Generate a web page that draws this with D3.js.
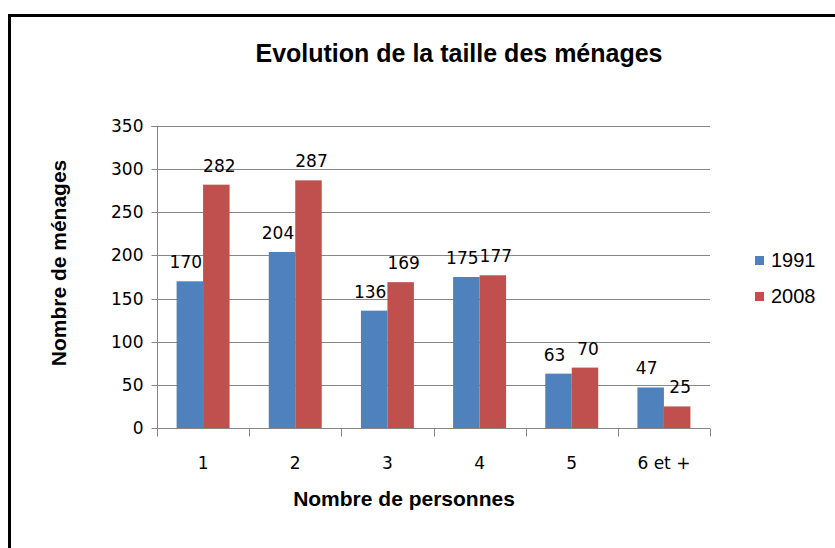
<!DOCTYPE html>
<html><head><meta charset="utf-8">
<script src="https://cdn.jsdelivr.net/npm/d3@7"></script>
<style>body{margin:0;background:#fff}</style>
</head><body>
<svg id="c" width="835" height="548"></svg>
<script>
const categories = ["1","2","3","4","5","6 et +"];
const seriesNames = ["1991","2008"];
const values1991 = [170,204,136,175,63,47];
const values2008 = [282,287,169,177,70,25];
const yTicks = [0,50,100,150,200,250,300,350];
const colors = ["#4F81BD","#C0504D"];

const svg = d3.select("#c");
// outer border
svg.append("rect").attr("x",9.5).attr("y",15.5).attr("width",900).attr("height",600)
  .attr("fill","none").attr("stroke","#000").attr("stroke-width",3);

const L=157, R=710, T=126, B=428;
const band = d3.scaleBand().domain(categories).range([L,R]).padding(0);
const inner = d3.scaleBand().domain(seriesNames).range([0,band.bandwidth()]).paddingInner(0).paddingOuter(0.74);
const y = d3.scaleLinear().domain([0,350]).range([B,T]);

const font = "'DejaVu Sans', Verdana, sans-serif";
const boldFont = "'Liberation Sans', Arial, sans-serif";

// gridlines
const g = svg.append("g");
g.selectAll("line.grid").data(yTicks.filter(d=>d>0)).join("line")
  .attr("x1",L).attr("x2",R).attr("y1",d=>Math.round(y(d))+0.5).attr("y2",d=>Math.round(y(d))+0.5)
  .attr("stroke","#868686").attr("stroke-width",1);

// y axis
const yAxis = d3.axisLeft(y).tickValues(yTicks).tickSize(6).tickPadding(8);
const ya = svg.append("g").attr("transform",`translate(${L+0.5},0)`).call(yAxis);
ya.select(".domain").attr("stroke","#868686");
ya.selectAll(".tick line").attr("stroke","#868686");
ya.selectAll(".tick text").attr("font-family",font).attr("font-size",17).attr("fill","#000");
ya.selectAll(".tick").attr("transform",d=>`translate(0,${Math.round(y(d))+0.5})`);
ya.select(".domain").attr("d",`M-6,${Math.round(y(350))+0.5}H0V${B+0.5}`);

// x axis
const xa = svg.append("g").attr("transform",`translate(0,${B+0.5})`);
xa.append("line").attr("x1",L).attr("x2",R).attr("stroke","#868686");
const bounds = categories.map(c=>band(c)).concat([band(categories[categories.length-1])+band.bandwidth()]);
xa.selectAll("line.t").data(bounds).join("line").attr("class","t")
  .attr("x1",d=>Math.round(d)+0.5).attr("x2",d=>Math.round(d)+0.5).attr("y1",0).attr("y2",8)
  .attr("stroke","#868686");
xa.selectAll("text").data(categories).join("text")
  .attr("x",d=>band(d)+band.bandwidth()/2).attr("y",40.5)
  .attr("text-anchor","middle").attr("font-family",font).attr("font-size",17).text(d=>d);

// bars
const labelShift = [-4, 3];
const data = categories.map((c,i)=>({cat:c, vals:[{s:"1991",v:values1991[i],k:0},{s:"2008",v:values2008[i],k:1}]}));
const grp = svg.selectAll("g.cat").data(data).join("g").attr("transform",d=>`translate(${band(d.cat)},0)`);
grp.selectAll("rect").data(d=>d.vals).join("rect")
  .attr("x",d=>inner(d.s)).attr("width",inner.bandwidth())
  .attr("y",d=>y(d.v)).attr("height",d=>B-y(d.v)).attr("fill",d=>colors[d.k]);
grp.selectAll("text").data(d=>d.vals).join("text")
  .attr("x",d=>inner(d.s)+inner.bandwidth()/2+labelShift[d.k]).attr("y",d=>y(d.v)-13)
  .attr("text-anchor","middle").attr("font-family",font).attr("font-size",17).text(d=>d.v);

// titles
svg.append("text").attr("x",459).attr("y",62).attr("text-anchor","middle")
  .attr("font-family",boldFont).attr("font-weight","bold").attr("font-size",25).text("Evolution de la taille des ménages");
svg.append("text").attr("x",404).attr("y",506).attr("text-anchor","middle")
  .attr("font-family",boldFont).attr("font-weight","bold").attr("font-size",21).text("Nombre de personnes");
svg.append("text").attr("transform","translate(66,263) rotate(-90)").attr("text-anchor","middle")
  .attr("font-family",boldFont).attr("font-weight","bold").attr("font-size",21).text("Nombre de ménages");

// legend
const lg = svg.selectAll("g.leg").data(seriesNames).join("g").attr("transform",(d,i)=>`translate(755,${256+i*36})`);
lg.append("rect").attr("width",9).attr("height",9).attr("fill",(d,i)=>colors[i]);
lg.append("text").attr("x",16).attr("y",11).attr("font-family",boldFont).attr("font-size",20).text(d=>d);
</script>
</body></html>
